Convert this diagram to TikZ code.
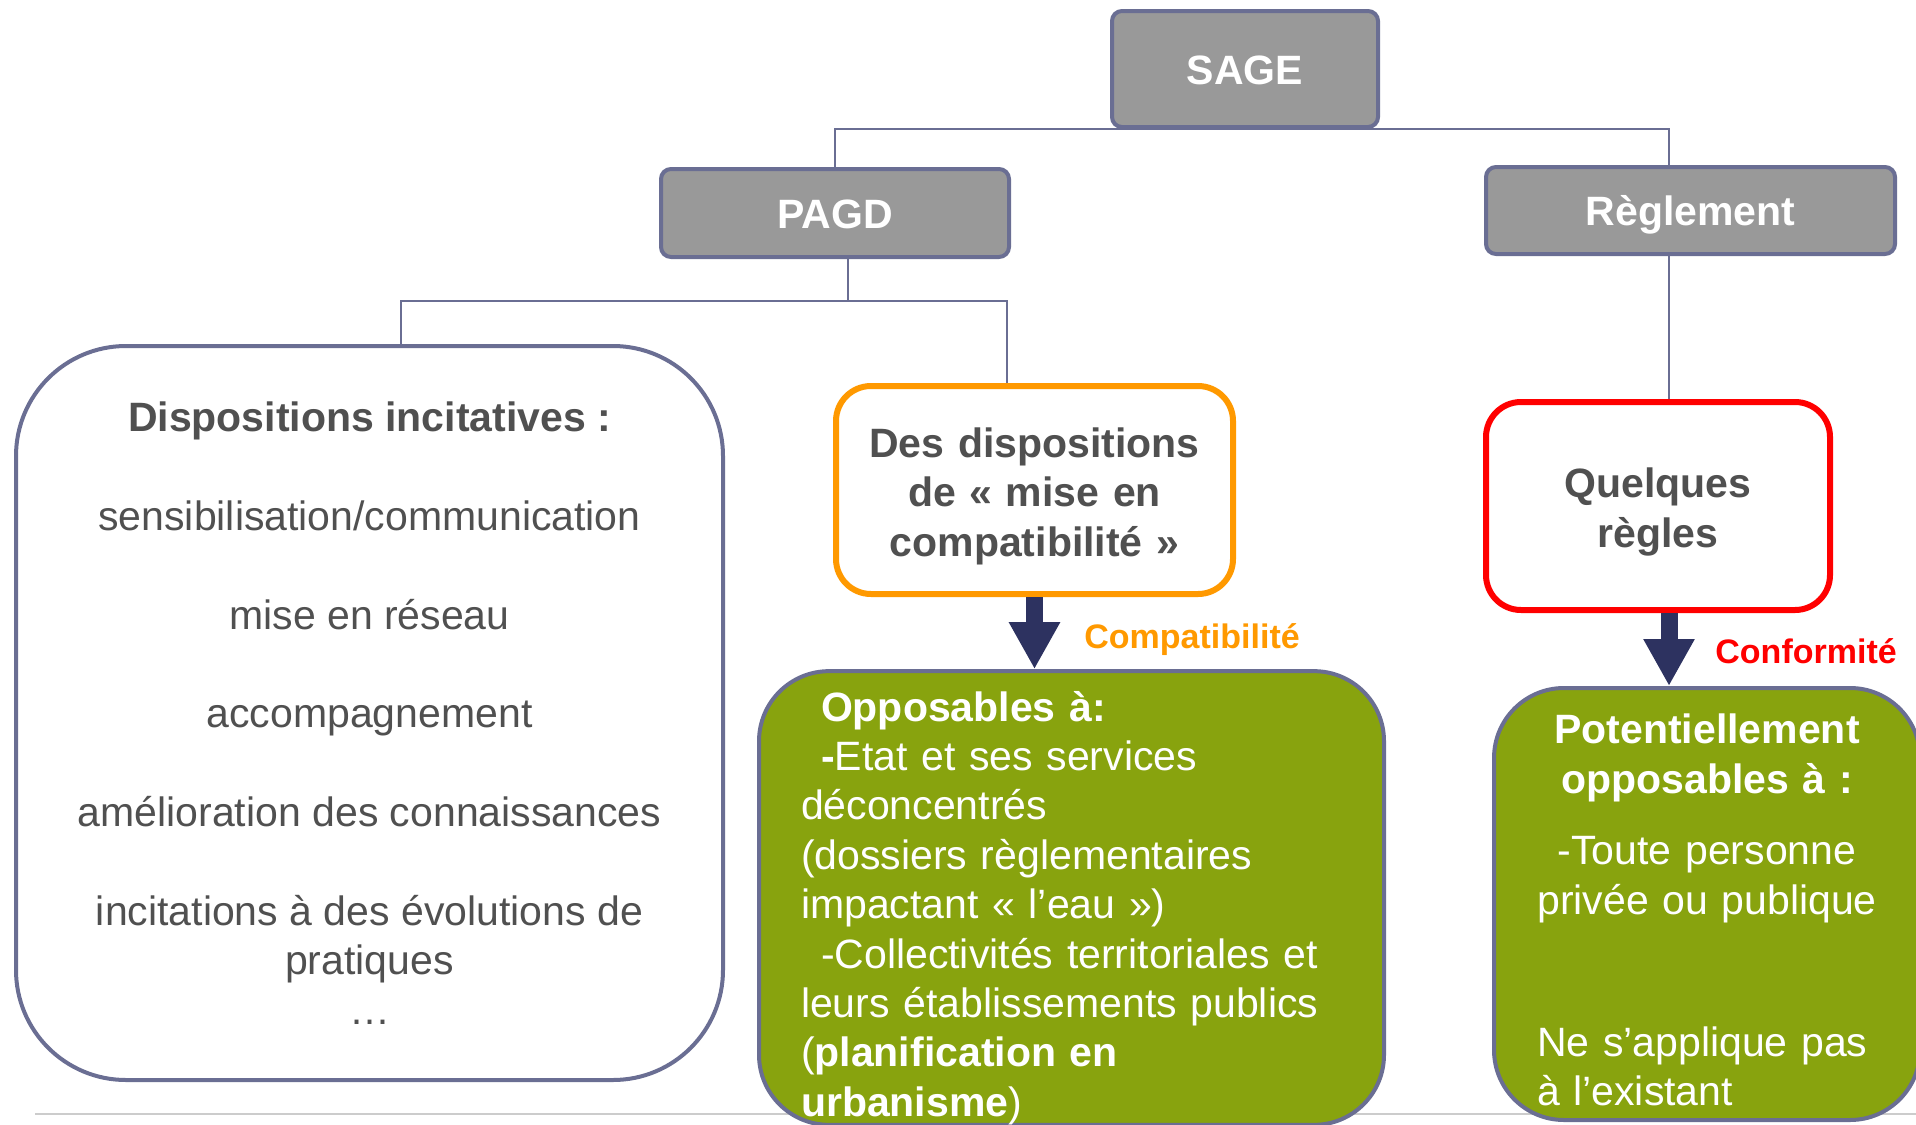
\documentclass[tikz,border=0pt]{standalone}
\usepackage{fontspec}
\setmainfont{Liberation Sans}
\usetikzlibrary{arrows.meta}
\definecolor{slate}{HTML}{6A6E93}
\definecolor{boxgray}{HTML}{999999}
\definecolor{inkgray}{HTML}{505050}
\definecolor{leafgreen}{HTML}{88A30E}
\definecolor{amber}{HTML}{FF9900}
\definecolor{arrowblue}{HTML}{2D3260}
\newcommand{\mainsize}{\fontsize{20.5}{24.7}\selectfont}
\newcommand{\tagsize}{\fontsize{17}{20}\selectfont}

\begin{document}
\begin{tikzpicture}[x=0.5pt, y=-0.5pt,
  headbox/.style={draw=slate, line width=2pt, fill=boxgray, rounded corners=5pt,
    text=white, font=\mainsize\bfseries, inner sep=0pt, text height=15pt, text depth=0pt},
  incitbox/.style={draw=slate, line width=2pt, fill=white, rounded corners=55pt,
    text=inkgray, font=\mainsize, align=center, inner sep=0pt},
  framebox/.style={line width=3pt, fill=white, rounded corners=17.5pt,
    text=inkgray, font=\mainsize\bfseries, align=center, inner sep=0pt, text height=21pt},
  greenbox/.style={draw=slate, line width=2pt, fill=leafgreen, rounded corners=35pt,
    text=white, font=\mainsize},
  link/.style={draw=slate, line width=0.75pt},
  flow/.style={draw=arrowblue, line width=8.5pt, -{Triangle[width=24pt,length=23.5pt]}},
  tag/.style={font=\tagsize\bfseries, anchor=west, inner sep=0pt}]
\useasboundingbox (0,0) rectangle (1916,1124);
\draw[black!20, line width=1pt] (35,1114) -- (1916,1114);

% tete de l'arbre
\node[headbox, minimum width=133pt, minimum height=58pt] (sage) at (1245,69) {SAGE};
\node[headbox, minimum width=174pt, minimum height=44pt] (pagd) at (835,213) {PAGD};
\node[headbox, minimum width=204.5pt, minimum height=43.5pt] (regl) at (1690.5,210.5) {Règlement};

% contenu
\node[incitbox, minimum width=353.5pt, minimum height=367pt] (incit) at (369.5,713) {%
  \textbf{Dispositions incitatives :}\\[24.7pt]
  sensibilisation/communication\\[24.7pt]
  mise en réseau\\[24.7pt]
  accompagnement\\[24.7pt]
  amélioration des connaissances\\[24.7pt]
  incitations à des évolutions de\\
  pratiques\\
  …};
\node[framebox, draw=amber, text width=180pt, minimum width=198.5pt, minimum height=104pt]
  (compat) at (1034.5,490) {Des dispositions\\de « mise en\\compatibilité »};
\node[framebox, draw=red, text width=150pt, minimum width=172pt, minimum height=104pt]
  (regles) at (1658,506) {Quelques\\règles};

\node[greenbox, minimum width=312.5pt, minimum height=222pt, text width=270.5pt,
  inner xsep=21pt, inner ysep=0pt, align=left, text height=25pt] (oppo) at (1071.5,898) {%
  \hspace*{10pt}\textbf{Opposables à:}\\
  \hspace*{10pt}\textbf{-}Etat et ses services\\
  déconcentrés\\
  (dossiers règlementaires\\
  impactant « l’eau »)\\
  \hspace*{10pt}-Collectivités territoriales et\\
  leurs établissements publics\\
  (\textbf{planification en}\\
  \textbf{urbanisme})};
\node[greenbox, minimum width=213pt, minimum height=216pt, inner sep=0pt, text width=200pt,
  align=center, text height=21pt] (poten) at (1707,904) {%
  \textbf{Potentiellement}\\
  \textbf{opposables à :}\\[11pt]
  -Toute personne\\
  privée ou publique\\[46.5pt]
  \makebox[170pt][l]{Ne s’applique pas}\\
  \makebox[170pt][l]{à l’existant}};

% liaisons
\coordinate (rj) at (1669,127);
\coordinate (pj) at (848,301);
\coordinate (pl) at (401,301);
\coordinate (pr) at (1007,301);
\draw[link] (pagd.north) |- (sage.south) -| (rj |- regl.north);
\draw[link] (regl.south -| rj) -- (regles.north -| rj);
\draw[link] (pagd.south -| pj) -- (pj);
\draw[link] (pl |- incit.north) -- (pl) -- (pr) -- (pr |- compat.north);

\draw[flow] (compat.south) -- (compat.south |- oppo.north);
\draw[flow] (regles.south -| rj) -- (rj |- poten.north);
\node[tag, text=amber] (lcompat) at (1084,640) {Compatibilité};
\node[tag, text=red] (lconf) at (1715,651) {Conformité};
\end{tikzpicture}
\end{document}
